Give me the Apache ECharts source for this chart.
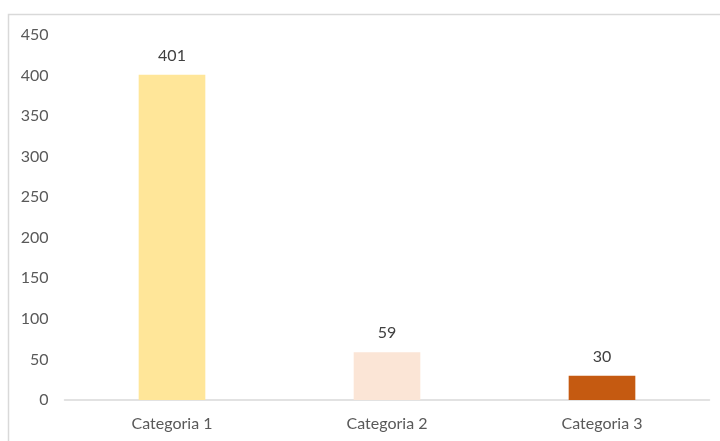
<!DOCTYPE html>
<html><head><meta charset="utf-8">
<script src="https://cdn.jsdelivr.net/npm/echarts@6/dist/echarts.min.js"></script>
<style>html,body{margin:0;padding:0;background:#fff}#c{width:720px;height:441px}</style>
</head><body><div id="c"></div>
<script>
const categories = ['Categoria 1', 'Categoria 2', 'Categoria 3'];
const values = [401, 59, 30];
const barColors = ['#FFE699', '#FBE5D6', '#C55A11'];
const yTicks = [0, 50, 100, 150, 200, 250, 300, 350, 400, 450];

const chart = echarts.init(document.getElementById('c'), null, {renderer: 'canvas'});
const font = 'Lato, "Open Sans", sans-serif';
chart.setOption({
  animation: false,
  backgroundColor: '#fff',
  graphic: [{
    type: 'rect', shape: {x: 8.5, y: 14.5, width: 730, height: 450},
    style: {fill: 'none', stroke: '#D9D9D9', lineWidth: 1.5}, silent: true, z: -1
  }],
  grid: {left: 64.5, right: 10.5, top: 35, bottom: 41},
  xAxis: {
    type: 'category', data: categories,
    axisLine: {lineStyle: {color: '#D9D9D9', width: 1.5}},
    axisTick: {show: false},
    axisLabel: {color: '#595959', fontFamily: font, fontSize: 16, margin: 16}
  },
  yAxis: {
    type: 'value', min: yTicks[0], max: yTicks[yTicks.length - 1], interval: 50,
    axisLine: {show: false}, axisTick: {show: false}, splitLine: {show: false},
    axisLabel: {color: '#595959', fontFamily: font, fontSize: 16, margin: 16}
  },
  series: [{
    type: 'bar', barWidth: '31%',
    data: values.map((v, i) => ({value: v, itemStyle: {color: barColors[i]}})),
    label: {show: true, position: 'top', distance: 11, color: '#404040', fontFamily: font, fontSize: 16}
  }]
});
</script></body></html>
